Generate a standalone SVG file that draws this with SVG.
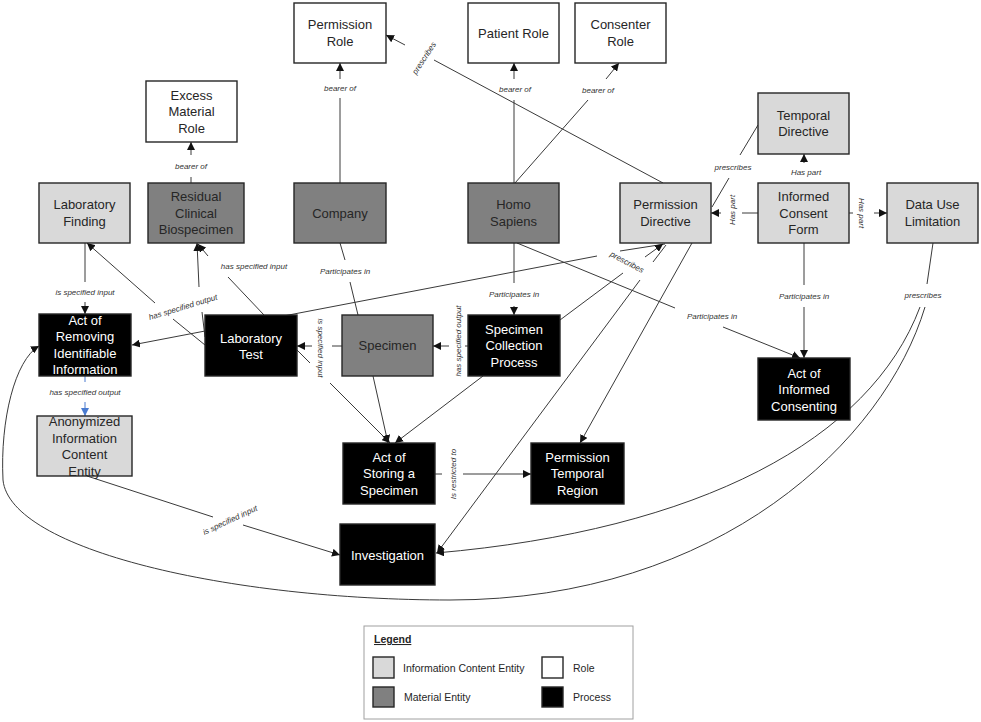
<svg xmlns="http://www.w3.org/2000/svg" width="981" height="722" viewBox="0 0 981 722">
<style>
.n rect{stroke:#262626;stroke-width:1.4}
.role{fill:#fff}.ice{fill:#d9d9d9}.mat{fill:#808080}.proc{fill:#000}
.t{font-family:"Liberation Sans",Arial,sans-serif;font-size:13px;text-anchor:middle;fill:#262626}
.tw{fill:#fff}
.e{fill:none;stroke:#3a3a3a;stroke-width:1}
.a{marker-end:url(#arr)}
.b{fill:none;stroke:#4a7bd0;stroke-width:1}
.l{font-family:"Liberation Sans",Arial,sans-serif;font-size:8px;font-style:italic;fill:#333;text-anchor:middle}
.lg{font-family:"Liberation Sans",Arial,sans-serif;font-size:10.5px;fill:#262626}
</style>
<defs>
<marker id="arr" viewBox="0 0 10 10" refX="10" refY="5" markerWidth="8" markerHeight="8" markerUnits="userSpaceOnUse" orient="auto"><path d="M0,0 L10,5 L0,10 z" fill="#111"/></marker>
<marker id="arrb" viewBox="0 0 10 10" refX="10" refY="5" markerWidth="8" markerHeight="8" markerUnits="userSpaceOnUse" orient="auto"><path d="M0,0 L10,5 L0,10 z" fill="#4a7bd0"/></marker>
</defs>
<rect width="981" height="722" fill="#fff"/>
<g id="connectors">
<path class="e" d="M340 183V98"/><path class="e a" d="M340 79V63"/><text class="l" x="340" y="91">bearer of</text>
<path class="e" d="M514 183V100"/><path class="e a" d="M514 79V63"/><text class="l" x="515" y="92">bearer of</text>
<path class="e" d="M515 183L588 100"/><path class="e a" d="M606 79L619 63"/><text class="l" x="598" y="93">bearer of</text>
<path class="e" d="M663 183L434 60"/><path class="e a" d="M405 45L386 35"/><text class="l" transform="translate(424 58) rotate(-57)" x="0" y="2.8">prescribes</text>
<path class="e" d="M191 183V177"/><path class="e a" d="M191 155V142"/><text class="l" x="191" y="169">bearer of</text>
<path class="e a" d="M804 163V154"/><text class="l" x="806" y="175">Has part</text>
<path class="e" d="M758 213H742"/><path class="e a" d="M721 213H711"/><text class="l" transform="translate(732 210) rotate(-90)" x="0" y="2.8">Has part</text>
<path class="e" d="M849 213H853"/><path class="e a" d="M874 213H887"/><text class="l" transform="translate(862 213) rotate(90)" x="0" y="2.8">Has part</text>
<path class="e" d="M758 125L740 155"/><path class="e" d="M729 178L712 207"/><text class="l" x="733" y="170">prescribes</text>
<path class="e" d="M85 243V282"/><path class="e a" d="M85 302V314"/><text class="l" x="85" y="295">is specified input</text>
<path class="b" d="M85 376V382"/><path class="b" marker-end="url(#arrb)" d="M85 402V416"/><text class="l" x="85" y="395">has specified output</text>
<path class="e" d="M205 345L173 319"/><path class="e a" d="M155 303L87 243"/><text class="l" transform="translate(183 307) rotate(-17)" x="0" y="2.8">has specified output</text>
<path class="e" d="M205 337L202 312"/><path class="e a" d="M199 287L197 243"/>
<path class="e" d="M264 315L228 277"/><path class="e a" d="M208 256L198 244"/><text class="l" x="254" y="269">has specified input</text>
<path class="e" d="M665 244L620 251"/><path class="e a" d="M597 256L132 345"/><text class="l" transform="translate(627 262) rotate(28)" x="0" y="2.8">prescribes</text>
<path class="e" d="M560 320L623 273"/><path class="e a" d="M645 257L663 244"/>
<path class="e" d="M666 245L653 262"/><path class="e a" d="M640 280L437 553"/>
<path class="e a" d="M692 243L580 443"/>
<path class="e" d="M517 243L675 308"/><path class="e a" d="M723 327L800 358"/><text class="l" x="712" y="319">Participates in</text>
<path class="e" d="M804 243V285"/><path class="e a" d="M804 307V358"/><text class="l" x="804" y="299">Participates in</text>
<path class="e" d="M340 243L345 260"/><path class="e" d="M350 282L358 315"/><text class="l" x="345" y="274">Participates in</text>
<path class="e" d="M514 243V283"/><path class="e a" d="M514 306V315"/><text class="l" x="514" y="297">Participates in</text>
<path class="e" d="M468 346H465"/><path class="e a" d="M449 346H433"/><text class="l" transform="translate(458 341) rotate(-90)" x="0" y="2.8">has specified output</text>
<path class="e" d="M342 346H332"/><path class="e a" d="M312 346H297"/><text class="l" transform="translate(321 348) rotate(90)" x="0" y="2.8">is specified input</text>
<path class="e" d="M297 350L310 363"/><path class="e a" d="M330 383L390 443"/>
<path class="e a" d="M373 376L388 443"/>
<path class="e a" d="M483 376L395 443"/>
<path class="e" d="M435 474H442"/><path class="e a" d="M463 474H531"/><text class="l" transform="translate(453 474) rotate(-90)" x="0" y="2.8">Is  restricted to</text>
<path class="e" d="M87 476L213 517"/><path class="e a" d="M243 525L340 555"/><text class="l" transform="translate(230 520) rotate(-25)" x="0" y="2.8">is specified input</text>
<path class="e" d="M933 243L927 284"/><text class="l" x="923" y="298">prescribes</text>
<path class="e a" d="M920 307C870 440 700 530 436 553"/>
<path class="e a" d="M925 307C885 440 720 600 450 600C230 600 10 550 3 480C0 420 15 360 39 346"/>
</g>
<g id="permission-role" class="n"><rect class="role" x="294" y="3" width="92" height="60"/><text class="t"><tspan x="340" y="29.4">Permission</tspan><tspan x="340" y="45.9">Role</tspan></text></g>
<g id="patient-role" class="n"><rect class="role" x="468" y="3" width="91" height="60"/><text class="t" x="513.5" y="37.6">Patient Role</text></g>
<g id="consenter-role" class="n"><rect class="role" x="575" y="3" width="91" height="60"/><text class="t"><tspan x="620.5" y="29.4">Consenter</tspan><tspan x="620.5" y="45.9">Role</tspan></text></g>
<g id="excess-material-role" class="n"><rect class="role" x="146" y="81" width="91" height="61"/><text class="t"><tspan x="191.5" y="99.6">Excess</tspan><tspan x="191.5" y="116.1">Material</tspan><tspan x="191.5" y="132.6">Role</tspan></text></g>
<g id="laboratory-finding" class="n"><rect class="ice" x="39" y="183" width="91" height="60"/><text class="t"><tspan x="84.5" y="209.4">Laboratory</tspan><tspan x="84.5" y="225.9">Finding</tspan></text></g>
<g id="residual-clinical-biospecimen" class="n"><rect class="mat" x="148" y="183" width="96" height="60"/><text class="t"><tspan x="196" y="201.1">Residual</tspan><tspan x="196" y="217.6">Clinical</tspan><tspan x="196" y="234.1">Biospecimen</tspan></text></g>
<g id="company" class="n"><rect class="mat" x="294" y="183" width="92" height="60"/><text class="t" x="340" y="217.6">Company</text></g>
<g id="homo-sapiens" class="n"><rect class="mat" x="468" y="183" width="91" height="60"/><text class="t"><tspan x="513.5" y="209.4">Homo</tspan><tspan x="513.5" y="225.9">Sapiens</tspan></text></g>
<g id="permission-directive" class="n"><rect class="ice" x="620" y="183" width="91" height="60"/><text class="t"><tspan x="665.5" y="209.4">Permission</tspan><tspan x="665.5" y="225.9">Directive</tspan></text></g>
<g id="temporal-directive" class="n"><rect class="ice" x="758" y="93" width="91" height="61"/><text class="t"><tspan x="803.5" y="119.9">Temporal</tspan><tspan x="803.5" y="136.4">Directive</tspan></text></g>
<g id="informed-consent-form" class="n"><rect class="ice" x="758" y="183" width="91" height="60"/><text class="t"><tspan x="803.5" y="201.1">Informed</tspan><tspan x="803.5" y="217.6">Consent</tspan><tspan x="803.5" y="234.1">Form</tspan></text></g>
<g id="data-use-limitation" class="n"><rect class="ice" x="887" y="183" width="91" height="60"/><text class="t"><tspan x="932.5" y="209.4">Data Use</tspan><tspan x="932.5" y="225.9">Limitation</tspan></text></g>
<g id="act-of-removing-identifiable-information" class="n"><rect class="proc" x="39" y="314" width="92" height="62"/><text class="t tw"><tspan x="85" y="324.9">Act of</tspan><tspan x="85" y="341.4">Removing</tspan><tspan x="85" y="357.9">Identifiable</tspan><tspan x="85" y="374.4">Information</tspan></text></g>
<g id="laboratory-test" class="n"><rect class="proc" x="205" y="315" width="92" height="61"/><text class="t tw"><tspan x="251" y="342.9">Laboratory</tspan><tspan x="251" y="359.4">Test</tspan></text></g>
<g id="specimen" class="n"><rect class="mat" x="342" y="315" width="91" height="61"/><text class="t" x="387.5" y="350.1">Specimen</text></g>
<g id="specimen-collection-process" class="n"><rect class="proc" x="468" y="315" width="92" height="61"/><text class="t tw"><tspan x="514" y="333.6">Specimen</tspan><tspan x="514" y="350.1">Collection</tspan><tspan x="514" y="366.6">Process</tspan></text></g>
<g id="act-of-informed-consenting" class="n"><rect class="proc" x="758" y="358" width="92" height="62"/><text class="t tw"><tspan x="804" y="377.6">Act of</tspan><tspan x="804" y="394.1">Informed</tspan><tspan x="804" y="410.6">Consenting</tspan></text></g>
<g id="anonymized-information-content-entity" class="n"><rect class="ice" x="37" y="416" width="95" height="60"/><text class="t"><tspan x="84.5" y="426.4">Anonymized</tspan><tspan x="84.5" y="442.9">Information</tspan><tspan x="84.5" y="459.4">Content</tspan><tspan x="84.5" y="475.9">Entity</tspan></text></g>
<g id="act-of-storing-a-specimen" class="n"><rect class="proc" x="343" y="443" width="92" height="61"/><text class="t tw"><tspan x="389" y="461.6">Act of</tspan><tspan x="389" y="478.1">Storing a</tspan><tspan x="389" y="494.6">Specimen</tspan></text></g>
<g id="permission-temporal-region" class="n"><rect class="proc" x="531" y="443" width="93" height="61"/><text class="t tw"><tspan x="577.5" y="461.6">Permission</tspan><tspan x="577.5" y="478.1">Temporal</tspan><tspan x="577.5" y="494.6">Region</tspan></text></g>
<g id="investigation" class="n"><rect class="proc" x="340" y="524" width="95" height="61"/><text class="t tw" x="387.5" y="559.6">Investigation</text></g>
<g id="legend">
<rect x="364" y="626" width="269" height="93" fill="#fff" stroke="#a0a0a0" stroke-width="1"/>
<text class="lg" x="374" y="643" font-weight="bold" text-decoration="underline">Legend</text>
<g class="n"><rect class="ice" x="373" y="657" width="21" height="21"/><rect class="mat" x="373" y="687" width="21" height="20"/><rect class="role" x="542" y="657" width="21" height="21"/><rect class="proc" x="542" y="687" width="21" height="20"/></g>
<text class="lg" x="403" y="672">Information Content Entity</text>
<text class="lg" x="404" y="701">Material Entity</text>
<text class="lg" x="573" y="672">Role</text>
<text class="lg" x="573" y="701">Process</text>
</g>
</svg>
